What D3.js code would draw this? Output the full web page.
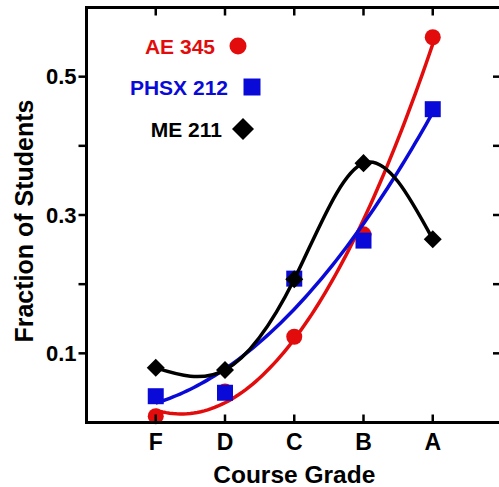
<!DOCTYPE html>
<html>
<head>
<meta charset="utf-8">
<script src="https://cdn.jsdelivr.net/npm/d3@7"></script>
<style>
  body { margin: 0; background: #fff; }
  text { font-family: "Liberation Sans", Arial, sans-serif; font-weight: bold; }
</style>
</head>
<body>
<div id="chart"></div>
<script>
// data
var grades = ["F", "D", "C", "B", "A"];
var ae345 = [0.009, 0.045, 0.124, 0.272, 0.557];
var phsx212 = [0.038, 0.043, 0.208, 0.263, 0.453];
var me211 = [0.079, 0.076, 0.207, 0.375, 0.265];
var yTicks = [0.1, 0.2, 0.3, 0.4, 0.5];
var yLabels = [0.1, 0.3, 0.5];

var margin = {top: 7.5, left: 86.5},
    width = 415.5,
    height = 415;

var svg = d3.select("#chart")
  .append("svg")
    .attr("width", 499)
    .attr("height", 487)
  .append("g")
    .attr("transform", "translate(" + margin.left + "," + margin.top + ")");

var x = d3.scaleLinear().domain([-1, 5]).range([0, width]);
var y = d3.scaleLinear().domain([0, 0.6]).range([height, 0]);

var red = "#e20c0c", blue = "#0a0ad8", black = "#000";

// least squares polynomial fit, returns coefficients c0..cn
function polyfit(xs, ys, deg) {
  var n = deg + 1, A = [], i, j, k;
  for (i = 0; i < n; i++) {
    A.push([]);
    for (j = 0; j < n; j++) A[i].push(d3.sum(xs, function(v) { return Math.pow(v, i + j); }));
    A[i].push(d3.sum(xs, function(v, m) { return Math.pow(v, i) * ys[m]; }));
  }
  for (i = 0; i < n; i++) {
    for (k = i + 1; k < n; k++) {
      var f = A[k][i] / A[i][i];
      for (j = i; j <= n; j++) A[k][j] -= f * A[i][j];
    }
  }
  var c = new Array(n);
  for (i = n - 1; i >= 0; i--) {
    var s = A[i][n];
    for (j = i + 1; j < n; j++) s -= A[i][j] * c[j];
    c[i] = s / A[i][i];
  }
  return c;
}

var idx = grades.map(function(d, i) { return i; });

function fitLine(vals, color) {
  var c = polyfit(idx, vals, 2);
  var pts = d3.range(0, 4.0001, 0.05).map(function(t) {
    return [t, c[0] + c[1] * t + c[2] * t * t];
  });
  svg.append("path")
    .datum(pts)
    .attr("d", d3.line()
      .x(function(d) { return x(d[0]); })
      .y(function(d) { return y(d[1]); }))
    .attr("fill", "none")
    .attr("stroke", color)
    .attr("stroke-width", 3.5);
}

function markers(vals, type, size, color, rot) {
  svg.selectAll(null)
    .data(vals)
    .enter()
    .append("path")
      .attr("d", d3.symbol().type(type).size(size))
      .attr("transform", function(d, i) {
        return "translate(" + x(i) + "," + y(d) + ")" + (rot ? " rotate(45)" : "");
      })
      .attr("fill", color);
}

// red
fitLine(ae345, red);
markers(ae345, d3.symbolCircle, Math.PI * 64, red);
// blue
fitLine(phsx212, blue);
markers(phsx212, d3.symbolSquare, 256, blue);
// black: smooth spline through points
svg.append("path")
  .datum(me211)
  .attr("d", d3.line()
    .x(function(d, i) { return x(i); })
    .y(function(d) { return y(d); })
    .curve(d3.curveNatural))
  .attr("fill", "none")
  .attr("stroke", black)
  .attr("stroke-width", 3.5);
markers(me211, d3.symbolSquare, 162, black, true);

// frame
svg.append("rect")
  .attr("width", width)
  .attr("height", height)
  .attr("fill", "none")
  .attr("stroke", "#000")
  .attr("stroke-width", 3);

// y ticks: outward on left, inward on right
svg.selectAll(".ytl").data(yTicks).enter().append("line")
  .attr("x1", -8).attr("x2", 0)
  .attr("y1", function(d) { return y(d); }).attr("y2", function(d) { return y(d); })
  .attr("stroke", "#000").attr("stroke-width", 2.5);
svg.selectAll(".ytr").data(yTicks).enter().append("line")
  .attr("x1", width - 9).attr("x2", width)
  .attr("y1", function(d) { return y(d); }).attr("y2", function(d) { return y(d); })
  .attr("stroke", "#000").attr("stroke-width", 2.5);
svg.selectAll(".ylab").data(yLabels).enter().append("text")
  .attr("x", -10)
  .attr("y", function(d) { return y(d) + 7.5; })
  .attr("text-anchor", "end")
  .style("font-size", "22px")
  .text(function(d) { return d3.format(".1f")(d); });

// x ticks: inward on top and bottom
svg.selectAll(".xtb").data(idx).enter().append("line")
  .attr("x1", function(d) { return x(d); }).attr("x2", function(d) { return x(d); })
  .attr("y1", height).attr("y2", height - 8)
  .attr("stroke", "#000").attr("stroke-width", 2.5);
svg.selectAll(".xtt").data(idx).enter().append("line")
  .attr("x1", function(d) { return x(d); }).attr("x2", function(d) { return x(d); })
  .attr("y1", 0).attr("y2", 8)
  .attr("stroke", "#000").attr("stroke-width", 2.5);
svg.selectAll(".xlab").data(grades).enter().append("text")
  .attr("x", function(d, i) { return x(i); })
  .attr("y", height + 27.5)
  .attr("text-anchor", "middle")
  .style("font-size", "23px")
  .text(function(d) { return d; });

// axis titles
svg.append("text")
  .attr("x", x(2))
  .attr("y", height + 60.5)
  .attr("text-anchor", "middle")
  .style("font-size", "24.5px")
  .text("Course Grade");
svg.append("text")
  .attr("transform", "translate(" + (33 - margin.left) + "," + (221 - margin.top) + ") rotate(-90)")
  .attr("text-anchor", "middle")
  .style("font-size", "25px")
  .text("Fraction of Students");

// legend
var legend = [
  {name: "AE 345", color: red, type: d3.symbolCircle, size: Math.PI * 72, rot: false, tx: 215, ty: 54, mx: 238, my: 46},
  {name: "PHSX 212", color: blue, type: d3.symbolSquare, size: 289, rot: false, tx: 228, ty: 95, mx: 252, my: 87},
  {name: "ME 211", color: black, type: d3.symbolSquare, size: 242, rot: true, tx: 222, ty: 137, mx: 243, my: 129}
];
var lg = d3.select("svg").append("g");
legend.forEach(function(l) {
  lg.append("text")
    .attr("x", l.tx).attr("y", l.ty)
    .attr("text-anchor", "end")
    .attr("fill", l.color)
    .style("font-size", "21px")
    .text(l.name);
  lg.append("path")
    .attr("d", d3.symbol().type(l.type).size(l.size))
    .attr("transform", "translate(" + l.mx + "," + l.my + ")" + (l.rot ? " rotate(45)" : ""))
    .attr("fill", l.color);
});
</script>
</body>
</html>
